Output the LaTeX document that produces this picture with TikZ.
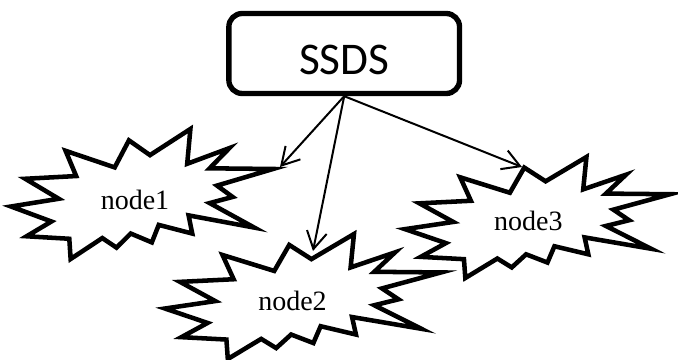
\documentclass[tikz,border=0pt]{standalone}
\usepackage{fontspec}
\setmainfont{Liberation Serif}
\newfontfamily\boxfont{Carlito}
\usetikzlibrary{arrows.meta}

% explosion outline, drawn in a unit box: #1,#2 = top left corner, #3 = width, #4 = height
\newcommand{\drawburst}[4]{%
  \begin{scope}[shift={(#1,#2)}, xscale=#3, yscale=#4]
    \draw[burst] (0.5306,0.2010) -- (0.6847,0) -- (0.6725,0.2675) -- (0.8336,0.1469)
      -- (0.7583,0.3024) -- (1.0,0.3076) -- (0.7863,0.4353) -- (0.8458,0.5227)
      -- (0.7583,0.5699) -- (0.9285,0.7583) -- (0.6778,0.6644) -- (0.6918,0.8042)
      -- (0.5639,0.7377) -- (0.5376,0.8723) -- (0.4570,0.8042) -- (0.4028,0.9126)
      -- (0.3485,0.8391) -- (0.2276,1.0) -- (0.2225,0.8444) -- (0.0595,0.8252)
      -- (0.1542,0.7116) -- (0,0.5962) -- (0.1822,0.5367) -- (0.0543,0.3829)
      -- (0.2487,0.3619) -- (0.2084,0.1678) -- (0.3958,0.2955) -- (0.4501,0.0874)
      -- cycle;
  \end{scope}}

\begin{document}
\begin{tikzpicture}[x=0.75pt, y=-0.75pt]
        % ================= styles =================
        \tikzset{
            % source box on top
            srcbox/.style={rectangle, rounded corners=10pt, draw=black, line width=4pt,
                minimum width=173pt, minimum height=60pt, inner sep=0pt,
                font=\boxfont\fontsize{34}{40}\selectfont, text height=31pt, text depth=0pt},
            % explosion outline
            burst/.style={draw=black, line width=3.4pt, fill=white, line join=miter},
            % text inside an explosion
            blabel/.style={inner sep=0pt, font=\fontsize{21}{24}\selectfont},
            % arrows from the box
            link/.style={line width=1.5pt, -{Straight Barb[length=13pt, width=15pt]}}
        }
        \useasboundingbox (0,0) rectangle (678,360);

        % ================= explosions =================
        \drawburst{11}{129}{262}{130}
        \drawburst{165}{234}{276}{125}
        \drawburst{405}{157}{265}{121}

        \node[blabel] (n1) at (135,200) {node1};
        \node[blabel] (n2) at (292.5,300.7) {node2};
        \node[blabel] (n3) at (528.3,220.7) {node3};

        % ================= source box =================
        \node[srcbox] (ssds) at (344.2,53.5) {SSDS};

        % arrow ends at the tips of the explosions
        \coordinate (t1) at (280,167);
        \coordinate (t2) at (313,251);
        \coordinate (t3) at (522,167);

        \draw[link] (ssds.south) -- (t1);
        \draw[link] (ssds.south) -- (t2);
        \draw[link] (ssds.south) -- (t3);

    \end{tikzpicture}
\end{document}
